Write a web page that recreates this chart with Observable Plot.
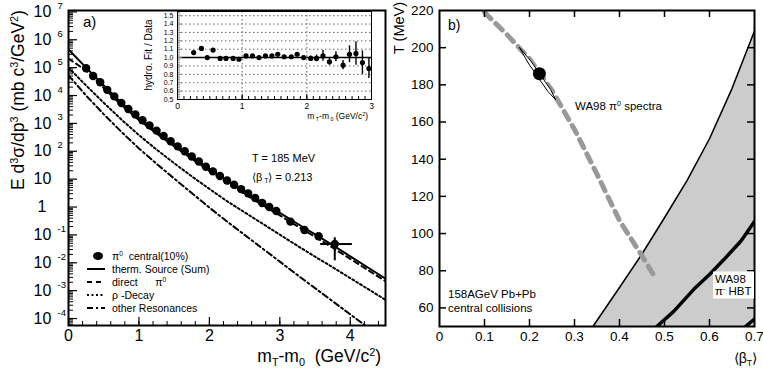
<!DOCTYPE html>
<html><head><meta charset="utf-8">
<script src="https://cdn.jsdelivr.net/npm/d3@7"></script>
<script src="https://cdn.jsdelivr.net/npm/@observablehq/plot@0.6"></script>
<style>
body{margin:0;background:#fff;font-family:"Liberation Sans",Arial,Helvetica,sans-serif;color:#000;}
#wrap{position:relative;width:763px;height:371px;overflow:hidden;background:#fff;}
#wrap svg{position:absolute;overflow:visible;}
.t{position:absolute;white-space:nowrap;line-height:1;}
.t sup{font-size:0.62em;vertical-align:0.55em;line-height:0;}
.t sub{font-size:0.62em;vertical-align:-0.35em;line-height:0;}
</style></head><body><div id="wrap"></div>
<script>
// ---------------- Panel a) data ----------------
const mtGrid     = [0,0.25,0.5,0.75,1,1.25,1.5,1.75,2,2.25,2.5,2.75,3,3.25,3.5,3.75,4,4.25,4.5];
const thermSum   = [4.47e5,1.0e5,2.29e4,5.50e3,1.58e3,525,182,64.6,23.4,8.91,3.63,1.48,0.617,0.251,0.105,0.0427,0.0170,0.00676,0.00269];
const directPi0  = [2.09e5,7.94e4,1.86e4,4.57e3,1.32e3,437,151,53.7,19.5,7.41,2.95,1.20,0.501,0.204,0.0851,0.0347,0.0138,0.00550,0.00219];
const rhoDecay   = [1.0e5,2.29e4,5.50e3,1.38e3,380,115,37.2,12.6,4.47,1.62,0.646,0.257,0.102,0.0407,0.0166,0.00692,0.00282,0.00115,0.000468];
const otherRes   = [5.25e4,1.0e4,2.14e3,501,126,35.5,10.5,3.16,0.955,0.302,0.100,0.0331,0.0110,0.00363,0.00123,0.000417,0.000141,0.0000479,0.0000162];

const pi0Mt    = [0.25,0.35,0.45,0.55,0.65,0.75,0.85,0.95,1.05,1.15,1.25,1.35,1.45,1.55,1.65,1.75,1.85,1.95,2.05,2.15,2.25,2.35,2.45,2.55,2.65,2.75,2.85,2.95,3.15,3.35,3.55,3.78];
const pi0Yield = [9.5e4,5.0e4,3.0e4,1.6e4,9.3e3,5.4e3,3.3e3,2.1e3,1.3e3,850,550,355,230,150,100,65,43,28,19,13,8.9,6.3,4.4,3.1,2.1,1.4,1.0,0.72,0.30,0.15,0.089,0.047];
const lastPointMtRange    = [3.58, 4.03];
const lastPointYieldRange = [0.0118, 0.079];

const ratioMt  = [0.25,0.37,0.46,0.55,0.66,0.75,0.86,0.95,1.06,1.16,1.26,1.36,1.46,1.55,1.65,1.76,1.85,1.95,2.06,2.15,2.25,2.35,2.45,2.56,2.66,2.76,2.86,2.96];
const ratioVal = [1.06,1.11,1.00,1.09,0.99,0.99,0.99,0.98,1.02,1.02,1.00,1.02,1.02,1.04,1.01,1.01,1.04,1.00,0.99,0.99,1.02,0.95,1.01,0.91,1.04,1.05,0.94,0.87];
const ratioErr = [0.015,0.015,0.01,0.015,0.01,0.01,0.01,0.01,0.01,0.01,0.01,0.01,0.01,0.012,0.012,0.012,0.015,0.02,0.03,0.04,0.065,0.04,0.06,0.055,0.1,0.14,0.14,0.12];

const yTickExps = [-4,-3,-2,-1,0,1,2,3,4,5,6,7];
const xTicksA   = [0,1,2,3,4];
const insetXTicks = [0,1,2,3];
const insetYTicks = [0.5,0.6,0.7,0.8,0.9,1.0,1.1,1.2,1.3,1.4,1.5];

// ---------------- Panel b) data ----------------
const spectraBeta = [0.10,0.15,0.20,0.25,0.30,0.35,0.40,0.45,0.48];
const spectraT    = [219,207,194,177,156,132,107,88,76];
const fitBeta = [0.222], fitT = [186];
const contourBeta = [0.178,0.203,0.225,0.247,0.258,0.241,0.219,0.197,0.178];
const contourT    = [200,192.8,185.1,177.4,172,176.4,184.1,191.8,200];
const limitBeta = [0.341,0.40,0.45,0.50,0.55,0.60,0.65,0.70];
const limitT    = [50,71,89,108.5,128.5,151,178,209];
const hbtBeta  = [0.483,0.52,0.565,0.60,0.632,0.67,0.70];
const hbtT     = [50,58,70,78,86,96,106.5];
const hbt2Beta = [0.68,0.70];
const hbt2T    = [50,54];
const xTicksB = [0,0.1,0.2,0.3,0.4,0.5,0.6,0.7];
const yTicksB = [60,80,100,120,140,160,180,200,220];

// ---------------- helpers ----------------
const wrap = document.getElementById("wrap");
const FONT = '"Liberation Sans", Arial, Helvetica, sans-serif';
function place(svg, left, top){ svg.style.left = left+"px"; svg.style.top = top+"px"; wrap.appendChild(svg); }
function label(html, x, y, {size=12, anchor="start", rotate=0, bg=null, pad=null}={}){
  const d = document.createElement("div");
  d.className = "t"; d.innerHTML = html;
  d.style.left = x+"px"; d.style.top = y+"px"; d.style.fontSize = size+"px";
  const tx = anchor==="start" ? "0" : anchor==="middle" ? "-50%" : "-100%";
  d.style.transform = `translate(${tx},-50%)` + (rotate ? ` rotate(${rotate}deg)` : "");
  if (rotate) d.style.transformOrigin = "50% 50%";
  if (bg) d.style.background = bg;
  if (pad) d.style.padding = pad;
  wrap.appendChild(d); return d;
}
const rows = (xs, ys, kx="x", ky="y") => xs.map((x,i)=>({[kx]:x,[ky]:ys[i]}));

// ---------------- Panel a) ----------------
const wA = 392, hA = 371, mlA = 68, mrA = 7, mtA = 10, mbA = 46;
const pwA = wA-mlA-mrA, phA = hA-mtA-mbA;
const yMajor = yTickExps.map(e => Math.pow(10,e));
const yMinor = [];
for (const e of [-5,...yTickExps]) for (const m of [2,3,4,5,6,7,8,9]) { const v = m*Math.pow(10,e); if (v>Math.pow(10,-4.25) && v<Math.pow(10,7.05)) yMinor.push(v); }
const xMinorA = d3.range(0, 4.51, 0.2);

const pts = rows(pi0Mt, pi0Yield, "mt", "v");
const last = [{mt: pi0Mt[pi0Mt.length-1], v: pi0Yield[pi0Yield.length-1]}];

const plotA = Plot.plot({
  width: wA, height: hA, marginLeft: mlA, marginRight: mrA, marginTop: mtA, marginBottom: mbA,
  style: {fontFamily: FONT, fontSize: "16px", background: "transparent", color: "black"},
  x: {domain: [0, 4.5], axis: null},
  y: {type: "log", domain: [Math.pow(10,-4.25), Math.pow(10,7.05)], axis: null},
  marks: [
    Plot.line(rows(mtGrid, otherRes, "mt", "v"), {x: "mt", y: "v", stroke: "black", strokeWidth: 2, strokeDasharray: "6,3,2,3", clip: true}),
    Plot.line(rows(mtGrid, rhoDecay, "mt", "v"), {x: "mt", y: "v", stroke: "black", strokeWidth: 2, strokeDasharray: "2,2.5", clip: true}),
    Plot.line(rows(mtGrid, directPi0, "mt", "v"), {x: "mt", y: "v", stroke: "black", strokeWidth: 2, strokeDasharray: "5,4", clip: true}),
    Plot.line(rows(mtGrid, thermSum, "mt", "v"), {x: "mt", y: "v", stroke: "black", strokeWidth: 2, clip: true}),
    Plot.dot(pts, {x: "mt", y: "v", r: 4.2, fill: "black", stroke: "none"}),
    Plot.ruleX(last, {x: "mt", y1: () => lastPointYieldRange[0], y2: () => lastPointYieldRange[1], strokeWidth: 2}),
    Plot.ruleY(last, {y: "v", x1: () => lastPointMtRange[0], x2: () => lastPointMtRange[1], strokeWidth: 2}),
    Plot.tickY(yMajor, {y: d => d, insetRight: pwA - 9, strokeWidth: 1.2}),
    Plot.tickY(yMinor, {y: d => d, insetRight: pwA - 5, strokeWidth: 1}),
    Plot.tickX(xTicksA, {x: d => d, insetTop: phA - 8, strokeWidth: 1.2}),
    Plot.tickX(xMinorA, {x: d => d, insetTop: phA - 4, strokeWidth: 1}),
    Plot.frame({stroke: "black", strokeWidth: 2}),
    Plot.text(yTickExps.filter(e => e!==0), {y: e => Math.pow(10,e), frameAnchor: "left", dx: -35, text: () => "10", textAnchor: "start", fontSize: 16}),
    Plot.text(yTickExps.filter(e => e===0), {y: e => Math.pow(10,e), frameAnchor: "left", dx: -31, text: () => "1", textAnchor: "start", fontSize: 16}),
    Plot.text(yTickExps.filter(e => e!==0 && e!==1), {y: e => Math.pow(10,e), frameAnchor: "left", dx: -11, dy: -6, text: e => String(e), textAnchor: "start", fontSize: 9.5}),
    Plot.text(xTicksA, {x: d => d, frameAnchor: "bottom", dy: 15, text: d => String(d), fontSize: 16})
  ]
});
place(plotA, 0, 0);

// inset
const wI = 245, hI = 125, mlI = 37, mrI = 14, mtI = 11, mbI = 26;
const pwI = wI-mlI-mrI, phI = hI-mtI-mbI;
const ratioRows = ratioMt.map((x,i)=>({x, y: ratioVal[i], lo: ratioVal[i]-ratioErr[i], hi: ratioVal[i]+ratioErr[i]}));
const plotI = Plot.plot({
  width: wI, height: hI, marginLeft: mlI, marginRight: mrI, marginTop: mtI, marginBottom: mbI,
  style: {fontFamily: FONT, fontSize: "8px", background: "transparent", color: "black"},
  x: {domain: [0, 3], axis: null},
  y: {domain: [0.5, 1.55], axis: null},
  marks: [
    Plot.ruleY(insetYTicks.filter(v => v>0.55 && Math.abs(v-1)>1e-6), {y: d => d, stroke: "#666", strokeWidth: 1, strokeDasharray: "1.5,2.5"}),
    Plot.ruleX([1,2], {x: d => d, stroke: "#666", strokeWidth: 1, strokeDasharray: "1.5,2.5"}),
    Plot.ruleY([1], {y: d => d, stroke: "black", strokeWidth: 1.5}),
    Plot.ruleX(ratioRows, {x: "x", y1: "lo", y2: "hi", stroke: "black", strokeWidth: 1.4}),
    Plot.dot(ratioRows, {x: "x", y: "y", r: 2.6, fill: "black", stroke: "none"}),
    Plot.tickY(insetYTicks, {y: d => d, insetRight: pwI - 5, stroke: "#888", strokeWidth: 1}),
    Plot.tickY(d3.range(0.52, 1.55, 0.02), {y: d => d, insetRight: pwI - 3, stroke: "#999", strokeWidth: 1}),
    Plot.tickX(insetXTicks, {x: d => d, insetTop: phI - 5, strokeWidth: 1}),
    Plot.tickX(d3.range(0.1, 3, 0.1), {x: d => d, insetTop: phI - 3, strokeWidth: 1}),
    Plot.frame({stroke: "black", strokeWidth: 1}),
    Plot.text(insetYTicks, {y: d => d, frameAnchor: "left", dx: -4, text: d => d.toFixed(1), textAnchor: "end", fontSize: 7}),
    Plot.text(insetXTicks, {x: d => d, frameAnchor: "bottom", dy: 9, text: d => String(d), fontSize: 8.5})
  ]
});
place(plotI, 140, 0);

// panel a) texts
label('E d<sup>3</sup>σ/dp<sup>3</sup> (mb c<sup>3</sup>/GeV<sup>2</sup>)', 19, 100, {size: 17.5, anchor: "middle", rotate: -90});
label('m<sub>T</sub>-m<sub>0</sub>&nbsp; (GeV/c<sup>2</sup>)', 381, 357, {size: 17.5, anchor: "end"});
label('a)', 83, 21, {size: 15});
label('T = 185 MeV', 252, 158, {size: 11});
label('⟨β<sub>&nbsp;T</sub>⟩ = 0.213', 252, 177, {size: 11});
label('hydro. Fit / Data', 149, 55, {size: 10, anchor: "middle", rotate: -90});
label('m<sub>&nbsp;T</sub>-m<sub>&nbsp;0</sub> (GeV/c<sup>2</sup>)', 368, 116, {size: 8.5, anchor: "end"});

// legend
const legendItems = [
  {html: 'π<sup>0</sup>&nbsp; central(10%)', dash: null, marker: true},
  {html: 'therm. Source (Sum)', dash: ""},
  {html: 'direct&nbsp;&nbsp;&nbsp;&nbsp;&nbsp; π<sup>0</sup>', dash: "5,4"},
  {html: 'ρ -Decay', dash: "2,2.5"},
  {html: 'other Resonances', dash: "6,3,2,3"}
];
legendItems.forEach((it, i) => {
  const y = 256 + i*13;
  const s = document.createElementNS("http://www.w3.org/2000/svg", "svg");
  s.setAttribute("width", 22); s.setAttribute("height", 10);
  s.style.left = "85px"; s.style.top = (y-5)+"px";
  if (it.marker) {
    const e = document.createElementNS(s.namespaceURI, "ellipse");
    e.setAttribute("cx", 13); e.setAttribute("cy", 5); e.setAttribute("rx", 5); e.setAttribute("ry", 4); e.setAttribute("fill", "black");
    s.appendChild(e);
  } else {
    const l = document.createElementNS(s.namespaceURI, "line");
    l.setAttribute("x1", 2); l.setAttribute("x2", 20); l.setAttribute("y1", 5); l.setAttribute("y2", 5);
    l.setAttribute("stroke", "black"); l.setAttribute("stroke-width", 2);
    if (it.dash) l.setAttribute("stroke-dasharray", it.dash);
    s.appendChild(l);
  }
  wrap.appendChild(s);
  label(it.html, 112, y, {size: 10.5});
});

// ---------------- Panel b) ----------------
const wB = 373, hB = 371, mlB = 49, mrB = 9, mtB = 10, mbB = 45;
const pwB = wB-mlB-mrB, phB = hB-mtB-mbB;
const xInner = xTicksB.slice(1, -1), yInner = yTicksB.slice(0, -1);
const plotB = Plot.plot({
  width: wB, height: hB, marginLeft: mlB, marginRight: mrB, marginTop: mtB, marginBottom: mbB,
  style: {fontFamily: FONT, fontSize: "13.5px", background: "transparent", color: "black"},
  x: {domain: [0, 0.7], axis: null},
  y: {domain: [50, 220], axis: null},
  marks: [
    Plot.areaX(rows(limitBeta, limitT, "b", "T"), {y: "T", x1: "b", x2: () => xTicksB[xTicksB.length-1], fill: "#cccccc"}),
    Plot.line(rows(limitBeta, limitT, "b", "T"), {x: "b", y: "T", stroke: "black", strokeWidth: 1.5}),
    Plot.line(rows(hbtBeta, hbtT, "b", "T"), {x: "b", y: "T", stroke: "black", strokeWidth: 3.5, clip: true}),
    Plot.line(rows(hbt2Beta, hbt2T, "b", "T"), {x: "b", y: "T", stroke: "black", strokeWidth: 3.5, clip: true}),
    Plot.line(rows(spectraBeta, spectraT, "b", "T"), {x: "b", y: "T", stroke: "#999", strokeWidth: 5, strokeDasharray: "9,7"}),
    Plot.line(rows(contourBeta, contourT, "b", "T"), {x: "b", y: "T", stroke: "black", strokeWidth: 1, fill: "white"}),
    Plot.dot(rows(fitBeta, fitT, "b", "T"), {x: "b", y: "T", r: 6.5, fill: "black", stroke: "none"}),
    Plot.tickX(xInner, {x: d => d, insetTop: phB - 7, strokeWidth: 1.5}),
    Plot.tickX(xInner, {x: d => d, insetBottom: phB - 7, strokeWidth: 1.5}),
    Plot.tickY(yInner, {y: d => d, insetRight: pwB - 7, strokeWidth: 1.5}),
    Plot.tickY(yInner, {y: d => d, insetLeft: pwB - 7, strokeWidth: 1.5}),
    Plot.frame({stroke: "black", strokeWidth: 2}),
    Plot.text(yTicksB, {y: d => d, frameAnchor: "left", dx: -6, text: d => String(d), textAnchor: "end", fontSize: 13.5}),
    Plot.text(xTicksB, {x: d => d, frameAnchor: "bottom", dy: 14, text: d => d===0 ? "0" : d.toFixed(1), fontSize: 13.5})
  ]
});
place(plotB, 390, 0);

label('T (MeV)', 399, 28, {size: 14.5, anchor: "middle", rotate: -90});
label('⟨β<sub>T</sub>⟩', 757, 358, {size: 14, anchor: "end"});
label('b)', 448, 25, {size: 14});
label('WA98 π<sup>0</sup> spectra', 575, 107, {size: 11.5});
label('158AGeV Pb+Pb', 448, 295, {size: 11.5});
label('central collisions', 448, 309, {size: 11.5});
label('WA98<br>π<sup>-</sup> HBT', 713, 285, {size: 11.5, bg: "white", pad: "2px 2px"});
</script></body></html>
